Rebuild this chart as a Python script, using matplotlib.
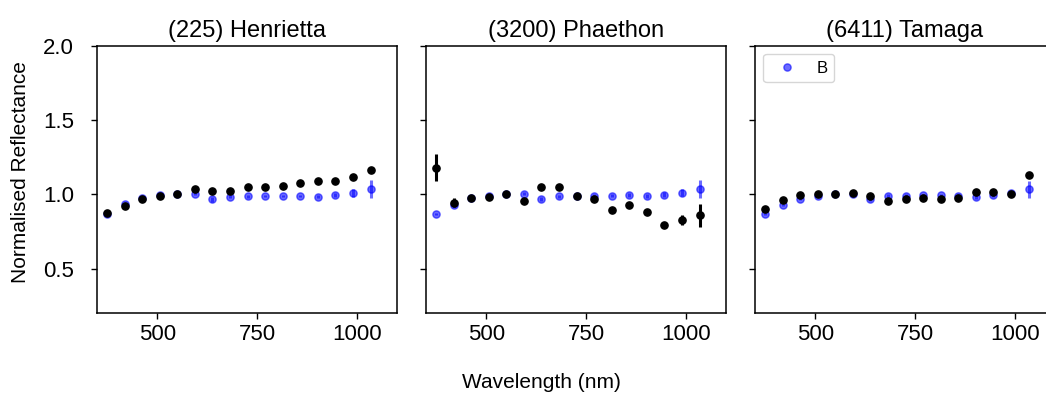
import matplotlib
matplotlib.use("Agg")
import matplotlib.pyplot as plt
from matplotlib.lines import Line2D

plt.rcParams['font.family'] = ['Liberation Sans', 'DejaVu Sans']

wavelength = [374, 418, 462, 506, 550, 594, 638, 682, 726, 770, 814, 858, 902, 946, 990, 1034]
titles = ["(225) Henrietta", "(3200) Phaethon", "(6411) Tamaga"]

# Panel 1: (225) Henrietta
henrietta_blue = [0.866, 0.933, 0.976, 0.994, 1.005, 1.003, 0.967, 0.985, 0.987, 0.987, 0.987, 0.989, 0.985, 0.996, 1.007, 1.034]
henrietta_blue_err = [0.008, 0.008, 0.008, 0.008, 0.008, 0.010, 0.015, 0.010, 0.010, 0.008, 0.008, 0.010, 0.012, 0.015, 0.027, 0.060]
henrietta_black = [0.877, 0.922, 0.969, 0.987, 1.005, 1.034, 1.021, 1.025, 1.050, 1.050, 1.057, 1.075, 1.088, 1.092, 1.119, 1.164]
henrietta_black_err = [0.008, 0.008, 0.008, 0.008, 0.008, 0.008, 0.008, 0.008, 0.008, 0.008, 0.008, 0.008, 0.008, 0.008, 0.010, 0.012]

# Panel 2: (3200) Phaethon
phaethon_blue = [0.866, 0.927, 0.974, 0.991, 1.003, 1.005, 0.967, 0.987, 0.989, 0.991, 0.991, 0.994, 0.989, 0.998, 1.011, 1.034]
phaethon_blue_err = [0.008, 0.012, 0.008, 0.008, 0.008, 0.012, 0.012, 0.010, 0.008, 0.010, 0.010, 0.012, 0.015, 0.015, 0.025, 0.060]
phaethon_black = [1.180, 0.944, 0.974, 0.985, 1.003, 0.956, 1.048, 1.050, 0.989, 0.967, 0.897, 0.927, 0.884, 0.796, 0.830, 0.859]
phaethon_black_err = [0.093, 0.030, 0.010, 0.010, 0.010, 0.012, 0.012, 0.010, 0.010, 0.010, 0.010, 0.012, 0.012, 0.012, 0.034, 0.076]

# Panel 3: (6411) Tamaga
tamaga_blue = [0.866, 0.929, 0.969, 0.987, 1.001, 1.005, 0.967, 0.991, 0.991, 0.994, 0.994, 0.991, 0.982, 0.996, 1.007, 1.034]
tamaga_blue_err = [0.008, 0.008, 0.008, 0.008, 0.008, 0.008, 0.010, 0.010, 0.010, 0.010, 0.010, 0.010, 0.012, 0.012, 0.015, 0.058]
tamaga_black = [0.902, 0.962, 0.998, 1.005, 1.003, 1.009, 0.987, 0.956, 0.971, 0.978, 0.971, 0.976, 1.016, 1.016, 1.005, 1.133]
tamaga_black_err = [0.008, 0.008, 0.008, 0.008, 0.008, 0.008, 0.008, 0.008, 0.008, 0.008, 0.008, 0.008, 0.008, 0.008, 0.010, 0.012]

blue_series = [henrietta_blue, phaethon_blue, tamaga_blue]
blue_errs = [henrietta_blue_err, phaethon_blue_err, tamaga_blue_err]
black_series = [henrietta_black, phaethon_black, tamaga_black]
black_errs = [henrietta_black_err, phaethon_black_err, tamaga_black_err]

BLUE_ALPHA = 0.58

W, H = 1046, 395
fig = plt.figure(figsize=(W / 100, H / 100), dpi=100)
lefts = [97, 426, 755]
axw = 300
top, bottom = 45.7, 313.3

axes = []
for i, lx in enumerate(lefts):
    ax = fig.add_axes([lx / W, (H - bottom) / H, axw / W, (bottom - top) / H])
    axes.append(ax)
    ax.errorbar(wavelength, blue_series[i], yerr=blue_errs[i], fmt='o', color='blue',
                alpha=BLUE_ALPHA, ms=5.2, elinewidth=2.2, capsize=0)
    ax.errorbar(wavelength, black_series[i], yerr=black_errs[i], fmt='o', color='black',
                ms=5.2, elinewidth=2.2, capsize=0)
    ax.set_xlim(349, 1100)
    ax.set_ylim(0.2, 2.0)
    ax.set_xticks([500, 750, 1000])
    ax.set_yticks([0.5, 1.0, 1.5, 2.0])
    ax.tick_params(labelsize=16, length=4.5, width=1.0)
    ax.tick_params(axis='y', pad=12)
    for s in ax.spines.values():
        s.set_linewidth(1.1)
    ax.set_title(titles[i], fontsize=17, pad=6)
    if i > 0:
        ax.tick_params(labelleft=False)

handle = Line2D([], [], marker='o', linestyle='none', color='blue', alpha=BLUE_ALPHA, markersize=5.2)
axes[2].legend([handle], ['B'], loc='upper left', fontsize=12, handletextpad=0.8)

fig.text(21 / W, (H - 172) / H, "Normalised Reflectance", fontsize=15, rotation=90,
         ha='center', va='center')
fig.text(541 / W, (H - 382) / H, "Wavelength (nm)", fontsize=15, ha='center', va='center')

fig.savefig("out.png", dpi=100)
